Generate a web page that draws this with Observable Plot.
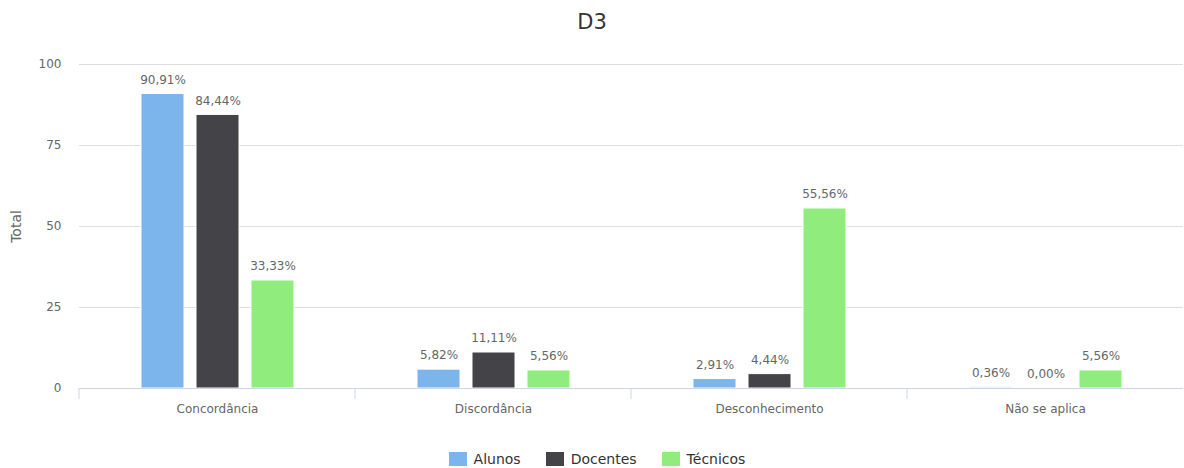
<!DOCTYPE html>
<html>
<head>
<meta charset="utf-8">
<script src="https://cdn.jsdelivr.net/npm/d3@7"></script>
<script src="https://cdn.jsdelivr.net/npm/@observablehq/plot@0.6"></script>
<style>
  html, body { margin: 0; padding: 0; background: #fff; }
  body { width: 1184px; height: 468px; overflow: hidden; font-family: "DejaVu Sans", sans-serif; }
  #title { height: 40px; box-sizing: border-box; padding-top: 12px; line-height: 20px; font-size: 21px; color: #333; text-align: center; }
  #legend { padding-top: 12px; padding-left: 10px; }
  #legend .lg-swatches { font-family: "DejaVu Sans", sans-serif !important; font-size: 14px !important; color: #333 !important; margin: 0 !important; }
  #legend .lg-swatches-wrap { justify-content: center !important; }
  #legend .lg-swatch { margin-right: 25px !important; }
  #legend .lg-swatch:last-child { margin-right: 0 !important; }
  #legend .lg-swatch > svg { margin-right: 7px !important; }
</style>
</head>
<body>
<div id="title">D3</div>
<div id="chart"></div>
<div id="legend"></div>
<script>
const categories = ["Concordância", "Discordância", "Desconhecimento", "Não se aplica"];
const series = ["Alunos", "Docentes", "Técnicos"];
const colors = ["#7cb5ec", "#434348", "#90ed7d"];
const alunos   = [90.91, 5.82, 2.91, 0.36];
const docentes = [84.44, 11.11, 4.44, 0.00];
const tecnicos = [33.33, 5.56, 55.56, 5.56];
const yTicks = [0, 25, 50, 75, 100];

const valuesBySeries = [alunos, docentes, tecnicos];
const data = [];
categories.forEach((c, i) => {
  series.forEach((s, j) => {
    data.push({category: c, series: s, value: valuesBySeries[j][i]});
  });
});

const fmt = v => d3.format(".2f")(v).replace(".", ",") + "%";

function boundaryTicks(index, scales, values, dimensions, context) {
  let x0;
  try { x0 = scales.x.range()[0]; } catch (e) { x0 = dimensions.marginLeft; }
  const y0 = scales.y(0);
  const g = d3.create("svg:g");
  g.append("line")
    .attr("x1", x0).attr("x2", x0)
    .attr("y1", y0).attr("y2", y0 + 11)
    .attr("stroke", "#ccd6eb");
  return g.node();
}

const chart = Plot.plot({
  width: 1184,
  height: 390,
  marginTop: 24,
  marginBottom: 42,
  marginLeft: 78,
  marginRight: 0,
  style: {fontFamily: "DejaVu Sans, sans-serif", fontSize: "12px", background: "#fff"},
  fx: {domain: categories, padding: 0},
  x: {domain: series, paddingInner: 0.223, paddingOuter: 1.094, axis: null},
  y: {domain: [0, 100]},
  color: {domain: series, range: colors},
  marks: [
    Plot.gridY(yTicks.filter(t => t > 0), {stroke: "#dedede", strokeOpacity: 1}),
    Plot.axisY({ticks: yTicks, tickSize: 0, tickPadding: 18, color: "#666", fontSize: 12, label: null}),
    Plot.axisY({ticks: [], tickSize: 0, color: "#666", fontSize: 14,
                label: "Total", labelAnchor: "center", labelOffset: 68, labelArrow: "none"}),
    Plot.axisFx({anchor: "bottom", tickSize: 0, tickPadding: 16, color: "#666", fontSize: 12, label: null}),
    Plot.barY(data, {fx: "category", x: "series", y: "value", fill: "series", stroke: "#fff", strokeWidth: 1}),
    Plot.ruleY([0], {stroke: "#ccd6eb"}),
    boundaryTicks,
    Plot.text(data, {fx: "category", x: "series", y: "value", text: d => fmt(d.value), dy: -14, fill: "#666", fontSize: 12})
  ]
});
document.getElementById("chart").appendChild(chart);

const legend = Plot.legend({
  color: {type: "ordinal", domain: series, range: colors},
  swatchWidth: 18,
  swatchHeight: 14,
  className: "lg"
});
document.getElementById("legend").appendChild(legend);
</script>
</body>
</html>
